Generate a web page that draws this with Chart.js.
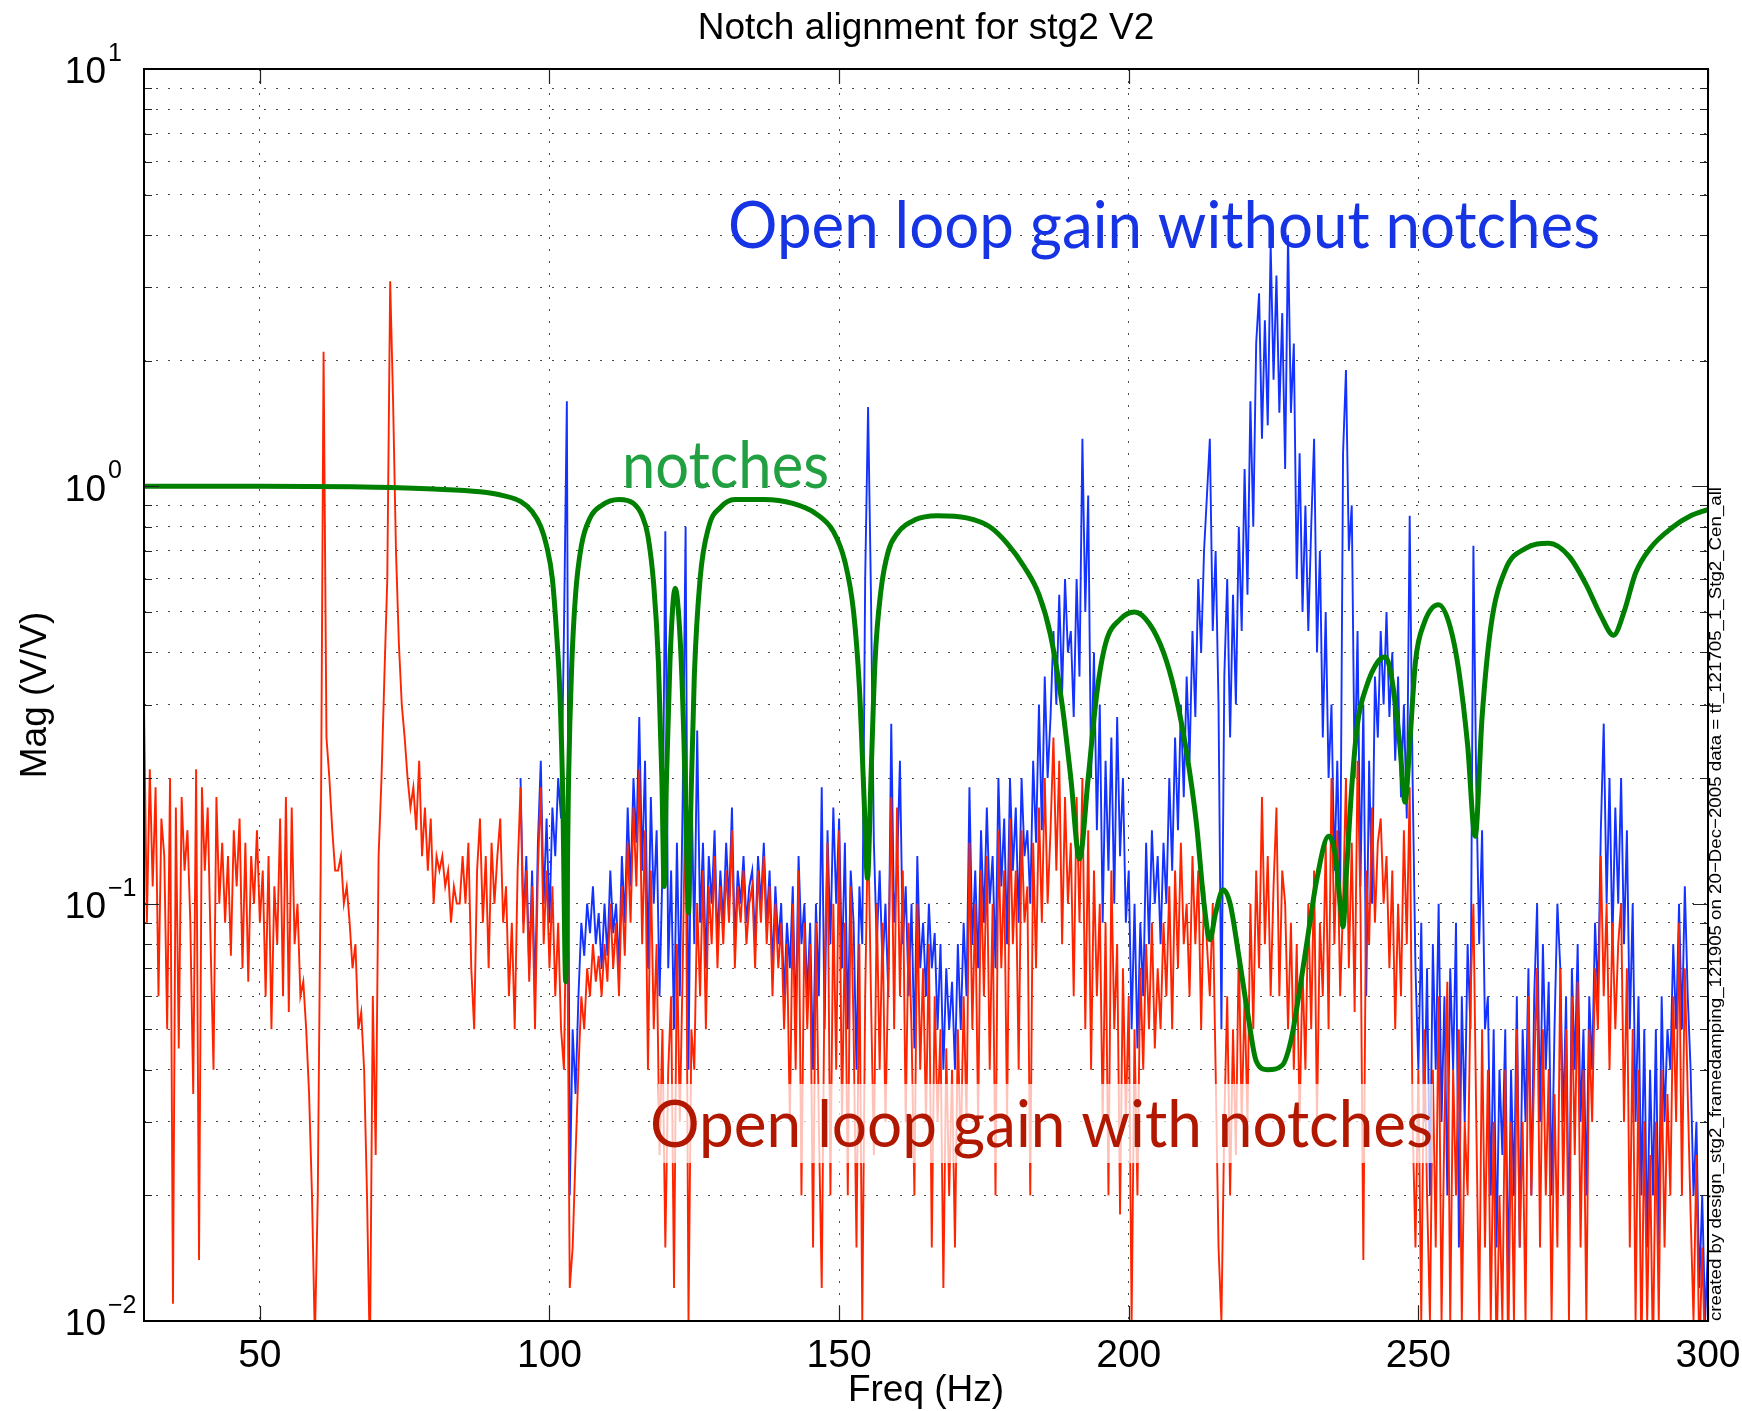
<!DOCTYPE html>
<html>
<head>
<meta charset="utf-8">
<title>Notch alignment for stg2 V2</title>
<script src="https://cdn.jsdelivr.net/npm/chart.js@4.4.1/dist/chart.umd.min.js"></script>
<style>
    html, body { margin: 0; padding: 0; background: #ffffff; }
    canvas { display: block; }
</style>
</head>
<body>
<canvas id="notch-chart" width="1742" height="1411"></canvas>
<script>
(function () {
    // sampling of the measured transfer functions (Hz)
    const sampleStep = 0.5;
    const redStartHz = 30;
    const blueStartHz = 95;

    // open loop gain with notches, 30 .. 300 Hz, one row per 5 Hz
    const redMag = [
        0.3, 0.09, 0.21, 0.11, 0.19, 0.06, 0.16, 0.13, 0.05, 0.2,
        0.011, 0.17, 0.045, 0.18, 0.12, 0.15, 0.09, 0.035, 0.21, 0.014,
        0.19, 0.12, 0.17, 0.08, 0.04, 0.18, 0.1, 0.14, 0.09, 0.13,
        0.075, 0.15, 0.11, 0.16, 0.07, 0.14, 0.065, 0.13, 0.1, 0.15,
        0.09, 0.12, 0.06, 0.13, 0.05, 0.11, 0.08, 0.16, 0.06, 0.18,
        0.055, 0.17, 0.08, 0.1, 0.06, 0.065, 0.05, 0.035, 0.02, 0.009,
        0.02, 0.12, 2.1, 0.25, 0.2, 0.15, 0.12, 0.12, 0.13, 0.1,
        0.11, 0.09, 0.07, 0.08, 0.05, 0.055, 0.04, 0.02, 0.008, 0.06,
        0.025, 0.13, 0.2, 0.35, 0.6, 3.1, 1.6, 0.7, 0.42, 0.3,
        0.25, 0.2, 0.17, 0.19, 0.15, 0.22, 0.13, 0.17, 0.12, 0.16,
        0.1, 0.13, 0.12, 0.13, 0.11, 0.12, 0.09, 0.11, 0.1, 0.1,
        0.13, 0.1, 0.14, 0.07, 0.05, 0.12, 0.16, 0.09, 0.13, 0.07,
        0.14, 0.1, 0.13, 0.16, 0.09, 0.11, 0.06, 0.09, 0.05, 0.12,
        0.19, 0.085, 0.12, 0.065, 0.11, 0.05, 0.12, 0.19, 0.08, 0.12,
        0.07, 0.11, 0.06, 0.09, 0.05, 0.04, 0.13, 0.012, 0.015, 0.025,
        0.04, 0.06, 0.05, 0.07, 0.06, 0.08, 0.065, 0.075, 0.06, 0.08,
        0.065, 0.1, 0.07, 0.09, 0.06, 0.11, 0.075, 0.14, 0.09, 0.17,
        0.11, 0.21, 0.08, 0.15, 0.04, 0.12, 0.05, 0.08, 0.025, 0.05,
        0.015, 0.04, 0.06, 0.012, 0.08, 0.03, 0.07, 0.2, 0.01, 0.05,
        0.04, 0.1, 0.06, 0.12, 0.05, 0.11, 0.08, 0.13, 0.07, 0.11,
        0.08, 0.12, 0.09, 0.15, 0.07, 0.11, 0.09, 0.12, 0.08, 0.1,
        0.11, 0.07, 0.12, 0.09, 0.13, 0.08, 0.11, 0.06, 0.1, 0.07,
        0.09, 0.05, 0.08, 0.03, 0.1, 0.04, 0.12, 0.02, 0.09, 0.05,
        0.08, 0.015, 0.09, 0.03, 0.012, 0.07, 0.14, 0.02, 0.1, 0.04,
        0.15, 0.03, 0.09, 0.02, 0.11, 0.05, 0.015, 0.08, 0.01, 0.06,
        0.16, 0.06, 0.025, 0.1, 0.04, 0.09, 0.03, 0.07, 0.18, 0.05,
        0.17, 0.06, 0.12, 0.03, 0.09, 0.05, 0.02, 0.1, 0.04, 0.07,
        0.03, 0.08, 0.015, 0.06, 0.03, 0.05, 0.012, 0.045, 0.02, 0.04,
        0.015, 0.05, 0.025, 0.06, 0.03, 0.14, 0.05, 0.1, 0.03, 0.12,
        0.06, 0.13, 0.04, 0.1, 0.02, 0.15, 0.07, 0.12, 0.03, 0.16,
        0.08, 0.12, 0.04, 0.15, 0.09, 0.11, 0.02, 0.14, 0.07, 0.17,
        0.09, 0.2, 0.1, 0.15, 0.25, 0.12, 0.22, 0.08, 0.18, 0.1,
        0.14, 0.06, 0.18, 0.09, 0.2, 0.05, 0.15, 0.04, 0.12, 0.06,
        0.1, 0.03, 0.09, 0.02, 0.12, 0.05, 0.08, 0.018, 0.07, 0.03,
        0.06, 0.01, 0.05, 0.02, 0.07, 0.04, 0.08, 0.05, 0.09, 0.045,
        0.07, 0.05, 0.09, 0.06, 0.11, 0.05, 0.12, 0.07, 0.14, 0.08,
        0.1, 0.06, 0.13, 0.08, 0.12, 0.05, 0.11, 0.08, 0.06, 0.1,
        0.04, 0.015, 0.01, 0.03, 0.06, 0.02, 0.05, 0.025, 0.08, 0.03,
        0.06, 0.03, 0.1, 0.05, 0.12, 0.07, 0.18, 0.08, 0.13, 0.06,
        0.11, 0.17, 0.06, 0.12, 0.1, 0.05, 0.09, 0.04, 0.08, 0.03,
        0.07, 0.04, 0.1, 0.05, 0.12, 0.03, 0.09, 0.06, 0.14, 0.05,
        0.2, 0.08, 0.15, 0.06, 0.1, 0.2, 0.07, 0.14, 0.055, 0.22,
        0.1, 0.014, 0.12, 0.08, 0.17, 0.09, 0.14, 0.16, 0.1, 0.13,
        0.07, 0.12, 0.05, 0.1, 0.06, 0.15, 0.08, 0.19, 0.03, 0.015,
        0.04, 0.01, 0.05, 0.02, 0.01, 0.04, 0.015, 0.06, 0.01, 0.03,
        0.065, 0.01, 0.04, 0.02, 0.05, 0.01, 0.03, 0.02, 0.06, 0.1,
        0.03, 0.01, 0.05, 0.015, 0.04, 0.01, 0.03, 0.008, 0.02, 0.01,
        0.04, 0.008, 0.03, 0.01, 0.05, 0.015, 0.03, 0.01, 0.06, 0.02,
        0.04, 0.07, 0.015, 0.05, 0.02, 0.04, 0.01, 0.035, 0.015, 0.07,
        0.02, 0.05, 0.01, 0.06, 0.025, 0.065, 0.015, 0.04, 0.01, 0.05,
        0.03, 0.07, 0.05, 0.13, 0.06, 0.1, 0.04, 0.09, 0.05, 0.08,
        0.1, 0.03, 0.07, 0.015, 0.05, 0.01, 0.04, 0.008, 0.03, 0.01,
        0.025, 0.008, 0.03, 0.01, 0.04, 0.015, 0.035, 0.02, 0.06, 0.03,
        0.09, 0.02, 0.07, 0.035, 0.018, 0.01, 0.025, 0.008, 0.015, 0.008,
        0.01
    ];

    // open loop gain without notches, 95 .. 300 Hz (below 95 Hz it sits under the red trace)
    const blueMag = [
        0.2, 0.09, 0.13, 0.07, 0.12, 0.06, 0.14, 0.22, 0.1, 0.16,
        0.09, 0.17, 0.13, 0.2, 0.16, 0.45, 1.6, 0.02, 0.05, 0.035,
        0.06, 0.09, 0.075, 0.1, 0.085, 0.11, 0.08, 0.095, 0.07, 0.1,
        0.075, 0.12, 0.085, 0.1, 0.07, 0.13, 0.09, 0.17, 0.11, 0.2,
        0.14, 0.28, 0.12, 0.22, 0.07, 0.18, 0.1, 0.15, 0.06, 0.12,
        0.78, 0.07, 0.12, 0.05, 0.14, 0.06, 0.18, 0.8, 0.04, 0.2,
        0.08, 0.26, 0.09, 0.14, 0.07, 0.13, 0.1, 0.15, 0.08, 0.12,
        0.09, 0.14, 0.1, 0.17, 0.08, 0.12, 0.1, 0.13, 0.09, 0.11,
        0.12, 0.08, 0.13, 0.1, 0.14, 0.09, 0.12, 0.07, 0.11, 0.08,
        0.1, 0.06, 0.09, 0.07, 0.11, 0.05, 0.13, 0.08, 0.1, 0.06,
        0.09, 0.04, 0.1, 0.06, 0.19, 0.05, 0.15, 0.08, 0.17, 0.1,
        0.16, 0.07, 0.14, 0.05, 0.12, 0.09, 0.04, 0.11, 0.08, 0.6,
        1.55, 0.55, 0.14, 0.08, 0.12, 0.07, 0.1, 0.06, 0.27, 0.09,
        0.12, 0.22, 0.08, 0.11, 0.06, 0.1, 0.045, 0.13, 0.07, 0.09,
        0.06, 0.1, 0.07, 0.085, 0.05, 0.08, 0.04, 0.07, 0.05, 0.065,
        0.04, 0.08, 0.05, 0.09, 0.06, 0.19, 0.08, 0.12, 0.07, 0.15,
        0.09, 0.17, 0.1, 0.13, 0.07, 0.2, 0.11, 0.16, 0.08, 0.2,
        0.12, 0.17, 0.09, 0.2, 0.13, 0.15, 0.1, 0.22, 0.14, 0.3,
        0.15, 0.35, 0.2, 0.28, 0.45, 0.3, 0.55, 0.32, 0.6, 0.4,
        0.45, 0.28, 0.6, 0.35, 1.3, 0.5, 0.95, 0.2, 0.4, 0.15,
        0.3, 0.09, 0.22, 0.12, 0.25, 0.1, 0.28, 0.13, 0.2, 0.09,
        0.12, 0.05, 0.1, 0.045, 0.09, 0.06, 0.14, 0.08, 0.15, 0.1,
        0.13, 0.08, 0.14, 0.1, 0.2, 0.12, 0.25, 0.15, 0.3, 0.18,
        0.35, 0.22, 0.45, 0.28, 0.6, 0.4, 0.7, 0.95, 1.3, 0.45,
        0.7, 0.3, 0.05, 0.35, 0.6, 0.25, 0.55, 0.3, 0.8, 0.45,
        1.1, 0.55, 1.6, 0.8, 2.2, 2.9, 1.3, 2.5, 1.4, 3.8,
        1.8, 3.2, 1.5, 2.6, 1.1, 4.0, 1.5, 2.2, 0.6, 1.2,
        0.5, 0.9, 0.45, 0.8, 1.3, 0.4, 0.7, 0.25, 0.5, 0.2,
        0.3, 0.12, 0.22, 0.1, 1.2, 1.9, 0.7, 0.9, 0.2, 0.45,
        0.11, 0.3, 0.06, 0.22, 0.1, 0.35, 0.25, 0.45, 0.3, 0.5,
        0.28, 0.4, 0.22, 0.35, 0.18, 0.3, 0.16, 0.85, 0.2, 0.07,
        0.04, 0.09, 0.03, 0.07, 0.02, 0.08, 0.04, 0.1, 0.03, 0.06,
        0.02, 0.07, 0.04, 0.09, 0.015, 0.06, 0.03, 0.08, 0.05, 0.72,
        0.19, 0.08, 0.15, 0.05, 0.06, 0.02, 0.05, 0.015, 0.04, 0.025,
        0.05, 0.012, 0.04, 0.02, 0.06, 0.015, 0.05, 0.03, 0.07, 0.02,
        0.06, 0.1, 0.03, 0.08, 0.04, 0.065, 0.02, 0.05, 0.1, 0.07,
        0.03, 0.06, 0.015, 0.07, 0.04, 0.08, 0.03, 0.05, 0.02, 0.06,
        0.04, 0.09, 0.06, 0.15, 0.27, 0.1, 0.2, 0.08, 0.17, 0.1,
        0.2, 0.08, 0.15, 0.05, 0.1, 0.03, 0.06, 0.02, 0.05, 0.015,
        0.04, 0.02, 0.05, 0.015, 0.06, 0.03, 0.05, 0.04, 0.08, 0.05,
        0.1, 0.05, 0.11, 0.06, 0.04, 0.02, 0.03, 0.012, 0.02, 0.01,
        0.015
    ];

    // notch filter response
    const notchHz = [
        30, 50, 70, 80, 88, 92, 95, 97, 98.5, 99.5, 100.5, 101.2, 101.8, 102.3, 102.8,
        103.3, 103.8, 104.5, 105.5, 107, 109, 112, 114.5, 116, 117, 118, 118.8, 119.4,
        119.8, 120.2, 120.8, 121.7, 122.6, 123.2, 123.7, 124, 124.4, 125, 126, 127.5,
        129.5, 132, 137, 142, 146, 149, 151, 152.5, 153.5, 154.3, 154.9, 155.5, 156.2,
        157.2, 158.5, 160, 163, 167, 172, 176, 179, 182, 184.5, 186.5, 188.5, 190, 191.5,
        193, 194.5, 196, 198.5, 201, 203.5, 206, 208, 210, 211.7, 213, 214, 215, 216.3,
        217.5, 219, 220.5, 222, 224, 226.5, 228, 229.5, 231, 232.5, 234.5, 235.7, 236.5,
        237, 237.6, 238.5, 239.5, 241, 243, 244.3, 245.5, 246.8, 247.7, 248.5, 249.5, 251,
        253.5, 255.5, 257, 258.5, 259.8, 261, 262.5, 265, 268.5, 272.5, 276, 279, 281.5,
        283.7, 285.5, 287.5, 290, 294, 297, 300
    ];
    const notchMag = [
        1.0, 1.0, 0.995, 0.985, 0.97, 0.95, 0.92, 0.87, 0.8, 0.72, 0.6, 0.45, 0.32, 0.18, 0.065,
        0.2, 0.36, 0.55, 0.72, 0.84, 0.9, 0.93, 0.91, 0.85, 0.76, 0.58, 0.38, 0.2,
        0.11, 0.2, 0.38, 0.57, 0.42, 0.25, 0.13, 0.095, 0.17, 0.35, 0.6, 0.8,
        0.89, 0.93, 0.93, 0.91, 0.86, 0.78, 0.66, 0.5, 0.33, 0.18, 0.115, 0.2, 0.38,
        0.56, 0.7, 0.77, 0.83, 0.85, 0.84, 0.8, 0.73, 0.64, 0.55, 0.44, 0.3, 0.2, 0.128,
        0.2, 0.32, 0.42, 0.48, 0.5, 0.47, 0.4, 0.32, 0.23, 0.155, 0.1, 0.082, 0.095, 0.108,
        0.1, 0.075, 0.055, 0.042, 0.04, 0.041, 0.047, 0.062, 0.085, 0.115, 0.145, 0.13, 0.1,
        0.088, 0.12, 0.19, 0.27, 0.33, 0.38, 0.39, 0.34, 0.24, 0.175, 0.24, 0.38, 0.47,
        0.52, 0.46, 0.36, 0.24, 0.145, 0.28, 0.46, 0.63, 0.71, 0.73, 0.68, 0.58, 0.49,
        0.44, 0.5, 0.62, 0.71, 0.8, 0.85, 0.88
    ];

    const xTickValues = [50, 100, 150, 200, 250, 300];
    const yDecades = [0.01, 0.1, 1, 10];
    const yMultipliers = [1, 2, 3, 4, 5, 6, 7, 8, 9];

    const titleText = "Notch alignment for stg2 V2";
    const xLabelText = "Freq (Hz)";
    const yLabelText = "Mag (V/V)";
    const sideText = "created by design_stg2_framedamping_121905 on 20\u2212Dec\u22122005 data = tf_121705_1_Stg2_Cen_all";

    const axisFont = "Helvetica, Arial, 'Liberation Sans', sans-serif";
    const noteFont = "Lato, 'Open Sans', sans-serif";

    function toPoints(startHz, values) {
        return values.map(function (value, index) {
            return { x: startHz + index * sampleStep, y: value };
        });
    }

    const yGridValues = [];
    yDecades.slice(0, 3).forEach(function (decade) {
        yMultipliers.forEach(function (m) {
            yGridValues.push(decade * m);
        });
    });
    yGridValues.push(10);

    function fitText(ctx, text, size, x, baseline, targetWidth, color) {
        ctx.font = size + "px " + noteFont;
        const w = ctx.measureText(text).width;
        ctx.save();
        ctx.translate(x, baseline);
        ctx.scale(targetWidth / w, 1);
        ctx.fillStyle = color;
        ctx.textAlign = "left";
        ctx.textBaseline = "alphabetic";
        ctx.fillText(text, 0, 0);
        ctx.restore();
    }

    const framePlugin = {
        id: "matlabFrame",
        afterDatasetsDraw: function (chart) {
            const ctx = chart.ctx;
            const area = chart.chartArea;
            const xs = chart.scales.x;
            const ys = chart.scales.y;

            ctx.save();

            // annotations
            fitText(ctx, "Open loop gain without notches", 65, 728, 248, 872, "rgb(22, 52, 228)");
            fitText(ctx, "notches", 65, 622, 488, 207, "rgb(32, 160, 64)");
            ctx.fillStyle = "rgba(255, 255, 255, 0.72)";
            ctx.fillRect(658, 1084, 775, 79);
            fitText(ctx, "Open loop gain with notches", 65, 650, 1147, 783, "rgb(178, 24, 0)");

            // inner tick marks
            ctx.strokeStyle = "#222222";
            ctx.lineWidth = 1.2;
            ctx.beginPath();
            xTickValues.forEach(function (v) {
                const px = Math.round(xs.getPixelForValue(v)) + 0.5;
                ctx.moveTo(px, area.bottom);
                ctx.lineTo(px, area.bottom - 15);
                ctx.moveTo(px, area.top);
                ctx.lineTo(px, area.top + 15);
            });
            yGridValues.forEach(function (v) {
                const py = Math.round(ys.getPixelForValue(v)) + 0.5;
                const isDecade = yDecades.some(function (d) { return Math.abs(d - v) < 1e-9; });
                const len = isDecade ? 15 : 8;
                ctx.moveTo(area.left, py);
                ctx.lineTo(area.left + len, py);
                ctx.moveTo(area.right, py);
                ctx.lineTo(area.right - len, py);
            });
            ctx.stroke();

            // axes box
            ctx.strokeStyle = "#000000";
            ctx.lineWidth = 2;
            ctx.strokeRect(area.left, area.top, area.right - area.left, area.bottom - area.top);

            // y tick labels as powers of ten
            ctx.fillStyle = "#000000";
            yDecades.forEach(function (d) {
                const py = ys.getPixelForValue(d);
                const exponent = Math.round(Math.log10(d));
                const expText = exponent < 0 ? "\u2212" + Math.abs(exponent) : String(exponent);
                ctx.font = "37px " + axisFont;
                ctx.textAlign = "right";
                ctx.textBaseline = "middle";
                ctx.fillText("10", 106, py + 4);
                ctx.font = "25px " + axisFont;
                ctx.textAlign = "left";
                ctx.fillText(expText, 108, py - 15);
            });

            // title and axis labels
            const midX = (area.left + area.right) / 2;
            ctx.font = "37px " + axisFont;
            ctx.textAlign = "center";
            ctx.textBaseline = "middle";
            ctx.fillText(titleText, midX, 29);
            ctx.fillText(xLabelText, midX, 1391);
            ctx.save();
            ctx.translate(36, (area.top + area.bottom) / 2);
            ctx.rotate(-Math.PI / 2);
            ctx.fillText(yLabelText, 0, 0);
            ctx.restore();

            // file stamp along the right edge
            ctx.font = "17px " + axisFont;
            const sideWidth = ctx.measureText(sideText).width;
            ctx.save();
            ctx.translate(1721, area.bottom);
            ctx.rotate(-Math.PI / 2);
            ctx.scale(834 / sideWidth, 1);
            ctx.textAlign = "left";
            ctx.textBaseline = "alphabetic";
            ctx.fillText(sideText, 0, 0);
            ctx.restore();

            ctx.restore();
        }
    };

    const canvas = document.getElementById("notch-chart");

    new Chart(canvas.getContext("2d"), {
        type: "line",
        data: {
            datasets: [
                {
                    label: "notches",
                    data: notchHz.map(function (f, i) { return { x: f, y: notchMag[i] }; }),
                    borderColor: "rgb(0, 128, 0)",
                    borderWidth: 5,
                    cubicInterpolationMode: "monotone",
                    pointRadius: 0,
                    fill: false
                },
                {
                    label: "Open loop gain with notches",
                    data: toPoints(redStartHz, redMag),
                    borderColor: "rgb(255, 36, 0)",
                    borderWidth: 1.9,
                    pointRadius: 0,
                    tension: 0,
                    fill: false
                },
                {
                    label: "Open loop gain without notches",
                    data: toPoints(blueStartHz, blueMag),
                    borderColor: "rgb(20, 50, 255)",
                    borderWidth: 1.9,
                    pointRadius: 0,
                    tension: 0,
                    fill: false
                }
            ]
        },
        options: {
            responsive: false,
            animation: false,
            devicePixelRatio: 1,
            layout: {
                padding: { left: 0, right: 34, top: 69, bottom: 0 }
            },
            plugins: {
                legend: { display: false },
                tooltip: { enabled: false },
                title: { display: false }
            },
            scales: {
                x: {
                    type: "linear",
                    min: 30,
                    max: 300,
                    afterBuildTicks: function (scale) {
                        scale.ticks = xTickValues.map(function (v) { return { value: v }; });
                    },
                    afterFit: function (scale) {
                        scale.height = 90;
                        scale.paddingLeft = 0;
                        scale.paddingRight = 0;
                    },
                    grid: {
                        color: "rgba(0, 0, 0, 0.7)",
                        lineWidth: 1,
                        drawTicks: false
                    },
                    border: { display: false, dash: [2, 10] },
                    ticks: {
                        color: "#000000",
                        padding: 12,
                        autoSkip: false,
                        maxRotation: 0,
                        font: { family: axisFont, size: 39 }
                    }
                },
                y: {
                    type: "logarithmic",
                    min: 0.01,
                    max: 10,
                    afterBuildTicks: function (scale) {
                        scale.ticks = yGridValues.map(function (v) { return { value: v }; });
                    },
                    afterFit: function (scale) {
                        scale.width = 144;
                        scale.paddingTop = 0;
                        scale.paddingBottom = 0;
                    },
                    grid: {
                        color: "rgba(0, 0, 0, 0.7)",
                        lineWidth: 1,
                        drawTicks: false
                    },
                    border: { display: false, dash: [2, 10] },
                    ticks: { display: false }
                }
            }
        },
        plugins: [framePlugin]
    });
})();
</script>
</body>
</html>
